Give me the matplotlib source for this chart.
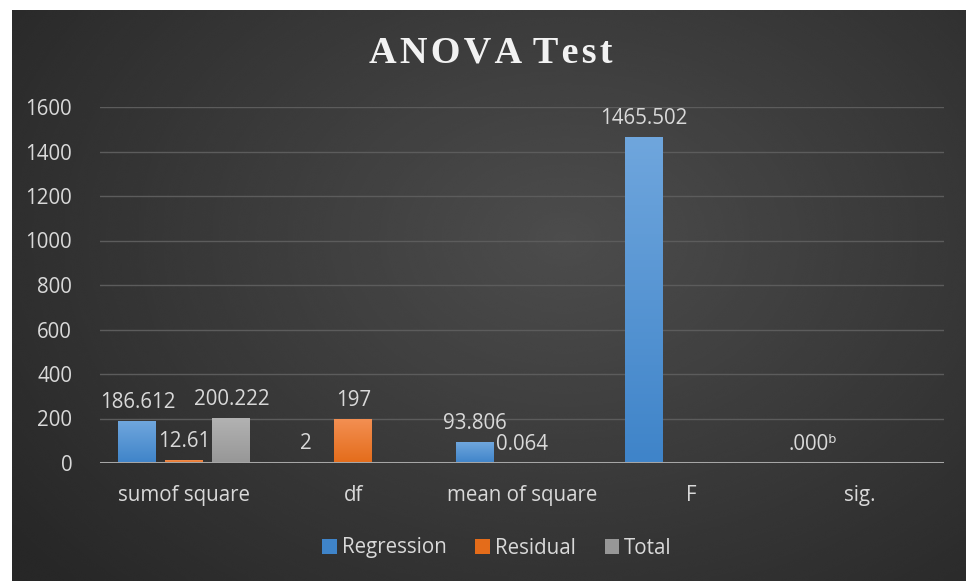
import numpy as np
import matplotlib
matplotlib.use("Agg")
import matplotlib.pyplot as plt
from matplotlib.patches import Patch

# ── data ───────────────────────────────────────────────────────────
categories = ["sumof square", "df", "mean of square", "F", "sig."]
regression = [186.612, 2, 93.806, 1465.502, 0]
residual = [12.61, 197, 0.064, np.nan, np.nan]
total = [200.222, np.nan, np.nan, np.nan, np.nan]
reg_labels = ["186.612", "2", "93.806", "1465.502", ".000\u1d47"]
res_labels = ["12.61", "197", "0.064", "", ""]
tot_labels = ["200.222", "", "", "", ""]
yticks = [0, 200, 400, 600, 800, 1000, 1200, 1400, 1600]

plt.rcParams["font.family"] = ["Open Sans", "DejaVu Sans"]
TXT = "#d9d9d9"
FS = 14.8

fig = plt.figure(figsize=(9.66, 5.81), dpi=100, facecolor="white")

# ── chart background: radial dark grey gradient ───────────────────
bg = fig.add_axes([12 / 966, 0, 1 - 12 / 966, 571 / 581])
yy, xx = np.mgrid[0:1:300j, 0:1:500j]
r = np.sqrt(((xx - 0.58) / 0.75) ** 2 + ((yy - 0.6) / 0.9) ** 2)
shade = np.clip(0.30 - 0.15 * r, 0.155, 0.30)
bg.imshow(shade, cmap="gray", vmin=0, vmax=1, aspect="auto",
          extent=[0, 1, 0, 1], origin="lower", interpolation="bicubic")
bg.set_axis_off()

ax = fig.add_axes([100 / 966, 118 / 581, 844 / 966, 356 / 581])
ax.patch.set_alpha(0)

x = np.arange(len(categories))
w = 0.225
off = 0.278
series = [
    (regression, reg_labels, -off, "Regression", ("#6fa6dd", "#3f84c9")),
    (residual, res_labels, 0, "Residual", ("#f38f52", "#e46c1a")),
    (total, tot_labels, off, "Total", ("#b2b2b2", "#979797")),
]

grad = np.linspace(0, 1, 100).reshape(-1, 1)
for vals, labs, dx, name, (c_top, c_bot) in series:
    bars = ax.bar(x + dx, vals, w, color=c_bot, zorder=2)
    cmap = matplotlib.colors.LinearSegmentedColormap.from_list(name, [c_bot, c_top])
    for b, lab in zip(bars, labs):
        h = b.get_height()
        if np.isnan(h):
            continue
        if h > 0:
            im = ax.imshow(grad, cmap=cmap, aspect="auto", origin="lower",
                           extent=[b.get_x(), b.get_x() + w, 0, h], zorder=2.1)
            im.set_clip_path(b)
        if lab:
            ax.annotate(lab, (b.get_x() + w / 2, h), xytext=(0, 6),
                        textcoords="offset points", ha="center", va="bottom",
                        color=TXT, fontsize=FS, zorder=4)

ax.set_xlim(-0.5, len(categories) - 0.5)
ax.set_ylim(0, 1600)
ax.set_yticks(yticks)
ax.set_xticks(x)
ax.set_xticklabels(categories)
ax.tick_params(axis="both", length=0, colors=TXT, labelsize=FS)
ax.tick_params(axis="x", pad=16)
ax.tick_params(axis="y", pad=20)
ax.grid(axis="y", color="#5c5c5c", lw=1, zorder=0)
for s in ax.spines.values():
    s.set_visible(False)
ax.axhline(0, color="#a6a6a6", lw=2.2, zorder=3)

handles = [Patch(facecolor=c[1], label=n) for _, _, _, n, c in series]
fig.legend(handles=handles, loc="center", bbox_to_anchor=(497 / 966, 1 - 548 / 581),
           ncol=3, frameon=False, fontsize=FS, labelcolor=TXT,
           handlelength=0.7, handleheight=0.7, handletextpad=0.25, columnspacing=1.4)

title = "\u200a".join("ANOVA") + " \u200a" + "\u200a".join("Test")
fig.text(491 / 966, 1 - 53 / 581, title,
         ha="center", va="center", family=["Liberation Serif", "DejaVu Serif"],
         fontweight="bold", fontsize=27.5, color="#f2f2f2")

fig.savefig("out.png", dpi=100, facecolor=fig.get_facecolor())
